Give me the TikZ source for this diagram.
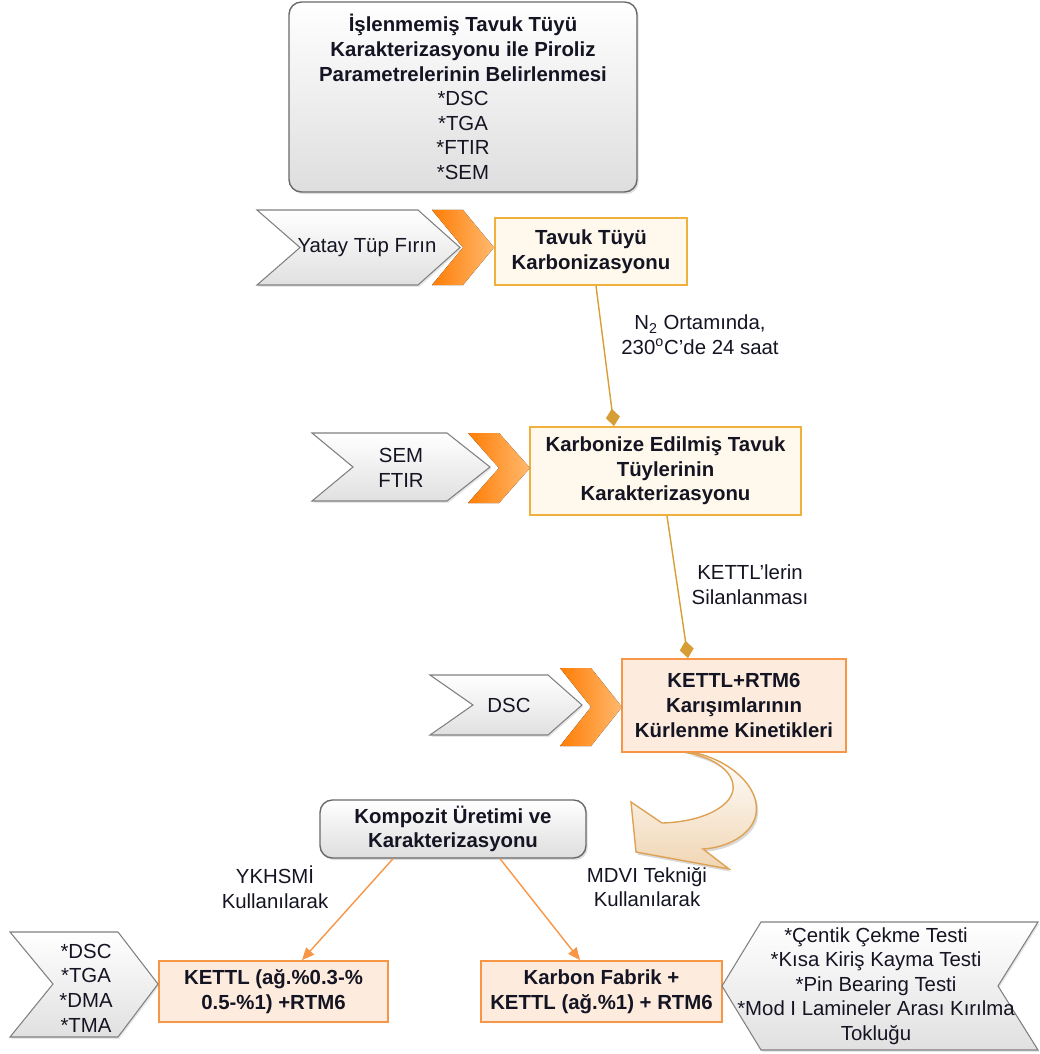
\documentclass[tikz,border=0pt]{standalone}
\usepackage{fontspec}
\setmainfont{Liberation Sans}
\usetikzlibrary{arrows.meta,shadows}

\newcommand{\yazi}{\fontsize{11.6}{14}\selectfont}

\definecolor{koyu}{RGB}{20,20,35}
\definecolor{gri}{RGB}{105,105,105}
\definecolor{altin}{RGB}{240,176,60}
\definecolor{krem}{RGB}{255,248,236}
\definecolor{turuncu}{RGB}{247,150,70}
\definecolor{seftali}{RGB}{253,236,222}
\definecolor{okkoyu}{RGB}{255,125,5}
\definecolor{okacik}{RGB}{255,185,110}
\definecolor{bej}{RGB}{222,162,85}

\begin{document}
\begin{tikzpicture}[x=0.02cm, y=-0.02cm,
    kutu/.style={align=center, inner sep=0pt, text=koyu, font=\yazi},
    kalin/.style={kutu, font=\yazi\bfseries},
    grikutu/.style={draw=gri, line width=0.8pt, rounded corners=7pt,
        top color=white, bottom color=black!13,
        drop shadow={opacity=0.25, shadow xshift=1pt, shadow yshift=-1.2pt}},
    altinkutu/.style={draw=altin, line width=1pt, fill=krem},
    turkutu/.style={draw=turuncu, line width=1pt, fill=seftali},
    gricevron/.style={draw=gri!85, line width=0.6pt, top color=white, bottom color=black!12,
        drop shadow={opacity=0.2, shadow xshift=0.8pt, shadow yshift=-1pt}},
    turcevron/.style={left color=okkoyu, right color=okacik},
    altinok/.style={draw=altin!90!black, line width=0.8pt, -{Diamond[length=10pt,width=8pt]}},
    turok/.style={draw=turuncu, line width=0.8pt, -{Triangle[length=7pt,width=6pt]}}]

    % 外枠
    \useasboundingbox (0,0) rectangle (1040,1054);

    % 箱
    \node[kutu, grikutu, minimum width=6.96cm, minimum height=3.8cm] (islenmemis) at (463,97)
        {\textbf{İşlenmemiş Tavuk Tüyü}\\\textbf{Karakterizasyonu ile Piroliz}\\\textbf{Parametrelerinin Belirlenmesi}\\*DSC\\*TGA\\*FTIR\\*SEM};
    \node[kalin, altinkutu, minimum width=3.84cm, minimum height=1.34cm] (tavuk) at (591,251.5)
        {Tavuk Tüyü\\Karbonizasyonu};
    \node[kalin, altinkutu, minimum width=5.42cm, minimum height=1.76cm] (karbonize) at (665.5,471)
        {Karbonize Edilmiş Tavuk\\Tüylerinin\\Karakterizasyonu};
    \node[kalin, turkutu, minimum width=4.48cm, minimum height=1.86cm] (kettl) at (734,705.5)
        {KETTL+RTM6\\Karışımlarının\\Kürlenme Kinetikleri};
    \node[kalin, grikutu, minimum width=5.32cm, minimum height=1.16cm] (kompozit) at (453,829)
        {Kompozit Üretimi ve\\Karakterizasyonu};
    \node[kalin, turkutu, minimum width=4.58cm, minimum height=1.22cm] (kettlb) at (273.5,991.5)
        {KETTL (ağ.\%0.3-\%\\0.5-\%1) +RTM6};
    \node[kalin, turkutu, minimum width=4.82cm, minimum height=1.22cm] (karbon) at (601.5,991.5)
        {Karbon Fabrik +\\KETTL (ağ.\%1) + RTM6};

    % シェブロン
    \fill[turcevron] (432,210) -- (463,210) -- (494,247.5) -- (463,285) -- (432,285) -- (463,247.5) -- cycle;
    \draw[gricevron] (257,210) -- (418,210) -- (460,247.5) -- (418,285) -- (257,285) -- (300,247.5) -- cycle;
    \node[kutu] (firin) at (367,247.5) {Yatay Tüp Fırın};

    \fill[turcevron] (468,433) -- (499,433) -- (530,468) -- (499,503) -- (468,503) -- (499,468) -- cycle;
    \draw[gricevron] (312,433) -- (447,433) -- (490,467) -- (447,501) -- (312,501) -- (353,467) -- cycle;
    \node[kutu] (semftir) at (401,468) {SEM\\FTIR};

    \fill[turcevron] (560,668) -- (591,668) -- (622,707) -- (591,746) -- (560,746) -- (591,707) -- cycle;
    \draw[gricevron] (430,675) -- (548,675) -- (582,705) -- (548,735) -- (430,735) -- (473,705) -- cycle;
    \node[kutu] (dsc) at (509,705) {DSC};

    \draw[gricevron] (10,932) -- (118,932) -- (158,984) -- (118,1037) -- (10,1037) -- (53,984) -- cycle;
    \node[kutu] (analiz) at (86,988) {*DSC\\*TGA\\*DMA\\*TMA};

    \draw[gricevron] (761,922) -- (1038,922) -- (998,986) -- (1038,1050) -- (761,1050) -- (722,986) -- cycle;
    \node[kutu] (testler) at (876,986)
        {*Çentik Çekme Testi\\*Kısa Kiriş Kayma Testi\\*Pin Bearing Testi\\*Mod I Lamineler Arası Kırılma\\Tokluğu};

    % 矢印
    \draw[altinok] ([xshift=0.1cm]tavuk.south) -- ([xshift=-1.03cm]karbonize.north);
    \draw[altinok] ([xshift=0.03cm]karbonize.south) -- ([xshift=-0.92cm]kettl.north);
    \draw[turok] ([xshift=-1.2cm]kompozit.south) -- ([xshift=0.57cm]kettlb.north);
    \draw[turok] ([xshift=0.94cm]kompozit.south) -- ([xshift=-0.43cm]karbon.north);

    % 曲がった矢印
    \draw[draw=bej, line width=0.8pt, top color=white, bottom color=bej!45,
        drop shadow={opacity=0.3, shadow xshift=1pt, shadow yshift=-1.5pt}]
        (696,753) .. controls (745,765) and (772,805) .. (747,831)
        .. controls (735,843) and (718,848) .. (703,849)
        -- (729,869) -- (636,852) -- (631,802) -- (662,823)
        .. controls (700,822) and (730,808) .. (733,790)
        .. controls (735,772) and (715,758) .. (688,753) -- cycle;

    % ラベル
    \node[kutu] (azot) at (700,335) {N\textsubscript{2} Ortamında,\\230\textsuperscript{o}C'de 24 saat};
    \node[kutu] (silan) at (750,585) {KETTL'lerin\\Silanlanması};
    \node[kutu] (ykhsmi) at (275,887) {YKHSMİ\\Kullanılarak};
    \node[kutu] (mdvi) at (647,887) {MDVI Tekniği\\Kullanılarak};

\end{tikzpicture}
\end{document}
